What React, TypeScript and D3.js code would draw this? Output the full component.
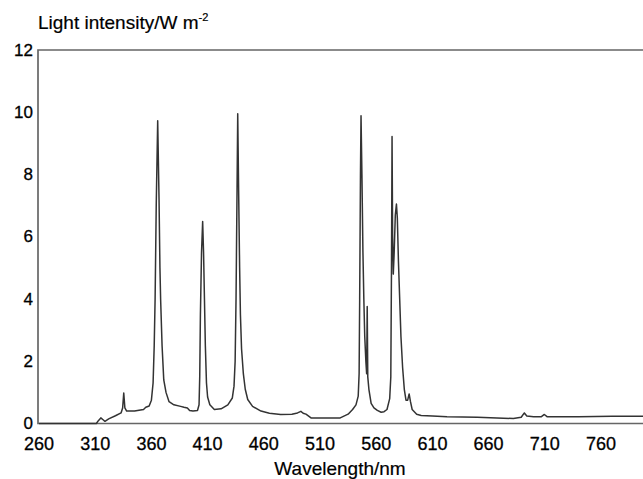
import React from "react";
import * as d3 from "d3";

const wavelengths = [
  260, 311, 313, 315, 317, 318.7, 322, 328, 333, 334.4, 335.4, 336.4, 338, 345, 353, 355, 358,
  360, 361.5, 362.5, 363.3, 364.3, 365.6, 366.8, 367.6, 368.2, 369.5, 371, 373, 375.7, 380, 386,
  389, 392, 394, 397, 401, 402.4, 403, 403.6, 404.6, 405.6, 406.4, 407.2, 408, 409, 410, 412, 416,
  422, 428, 432, 433.5, 434.5, 435.3, 436.2, 436.8, 437.6, 438.5, 439.2, 440.2, 441.8, 443.5,
  445.7, 450, 457.5, 465, 475, 485, 490, 493, 495, 497.5, 502, 528, 535, 539, 542, 544, 544.8,
  545.3, 546, 546.5, 547.3, 548.2, 549, 549.8, 550.8, 551.5, 552, 552.5, 553.5, 555.5, 558, 561,
  564.4, 567, 569.6, 572, 573, 573.6, 574.1, 574.6, 575.2, 576, 577, 578, 578.8, 579.8, 580.9,
  582, 583.5, 585, 586.5, 588, 589.3, 590.5, 592, 596, 600, 610, 623, 650, 682, 689, 691.8, 694,
  700, 707, 709.6, 712, 740, 770, 810,
];
const intensities = [
  0, 0, 0.1, 0.18, 0.12, 0.07, 0.15, 0.25, 0.34, 0.5, 0.98, 0.5, 0.4, 0.4, 0.45, 0.52, 0.56,
  0.75, 1.3, 2.5, 4.0, 7.0, 9.73, 7.2, 5.0, 4.0, 2.5, 1.4, 1.0, 0.7, 0.6, 0.55,
  0.52, 0.5, 0.42, 0.4, 0.42, 0.6, 1.5, 3.5, 5.5, 6.49, 5.5, 4.0, 2.5, 1.3, 0.85, 0.6, 0.45,
  0.47, 0.6, 0.82, 1.2, 2.0, 4.0, 7.5, 9.95, 7.5, 5.0, 3.5, 2.4, 1.6, 1.1,
  0.77, 0.55, 0.4, 0.33, 0.29, 0.3, 0.34, 0.39, 0.33, 0.3, 0.18, 0.18, 0.3, 0.45, 0.6, 0.88, 1.6,
  4.0, 8.0, 9.89, 8.0, 5.5, 4.0, 2.8, 2.0, 1.6, 3.76, 1.5, 1.1, 0.65, 0.5, 0.42,
  0.36, 0.38, 0.45, 0.8, 1.5, 5.0, 9.22, 6.0, 4.8, 5.5, 6.7, 7.05, 6.6, 5.2, 4.0,
  2.8, 1.8, 1.1, 0.75, 0.75, 0.95, 0.7, 0.45, 0.3, 0.26, 0.24, 0.22, 0.2, 0.16, 0.2, 0.34, 0.24,
  0.22, 0.22, 0.29, 0.22, 0.22, 0.23, 0.24,
];
const xTicks = [260, 310, 360, 410, 460, 510, 560, 610, 660, 710, 760];
const yTicks = [0, 2, 4, 6, 8, 10, 12];

const W = 643;
const H = 479;
const FONT = "'Liberation Sans', Arial, Helvetica, sans-serif";

export default function App() {
  const x = d3.scaleLinear().domain([260, 810]).range([39, 39 + 550 * 1.124]);
  const y = d3.scaleLinear().domain([0, 12]).range([423.5, 50]);
  const data = wavelengths.map((w, i) => [w, intensities[i]] as [number, number]);
  const line = d3
    .line<[number, number]>()
    .x((d) => x(d[0]))
    .y((d) => y(d[1]))
    .curve(d3.curveLinear);

  const left = 38;
  const top = y(12);
  const bottom = y(0);
  const right = x(810) + 20;

  return (
    <svg
      width={W}
      height={H}
      style={{ position: "absolute", left: 0, top: 0, background: "#fff" }}
    >
      <rect x={0} y={0} width={W} height={H} fill="#fff" />
      <path
        d={`M${right},${top}H${left}V${bottom}H${right}`}
        fill="none"
        stroke="#666"
        strokeWidth={1.7}
      />
      <path d={line(data) || ""} fill="none" stroke="#333" strokeWidth={1.5} strokeLinejoin="round" />
      {yTicks.map((t) => (
        <text
          key={"y" + t}
          x={33}
          y={y(t) + 5.5}
          textAnchor="end"
          fontFamily={FONT}
          fontSize={17}
          fill="#000"
          stroke="#000"
          strokeWidth={0.3}
        >
          {t}
        </text>
      ))}
      {xTicks.map((t) => (
        <text
          key={"x" + t}
          x={x(t)}
          y={450}
          textAnchor="middle"
          fontFamily={FONT}
          fontSize={18}
          fill="#000"
          stroke="#000"
          strokeWidth={0.3}
        >
          {t}
        </text>
      ))}
      <text x={38} y={29} fontFamily={FONT} fontSize={19} fill="#000" stroke="#000" strokeWidth={0.2}>
        Light intensity/W m
        <tspan fontSize={11} dy={-8}>
          -2
        </tspan>
      </text>
      <text
        x={340}
        y={475}
        textAnchor="middle"
        fontFamily={FONT}
        fontSize={19}
        fill="#000"
        stroke="#000"
        strokeWidth={0.2}
      >
        Wavelength/nm
      </text>
    </svg>
  );
}
